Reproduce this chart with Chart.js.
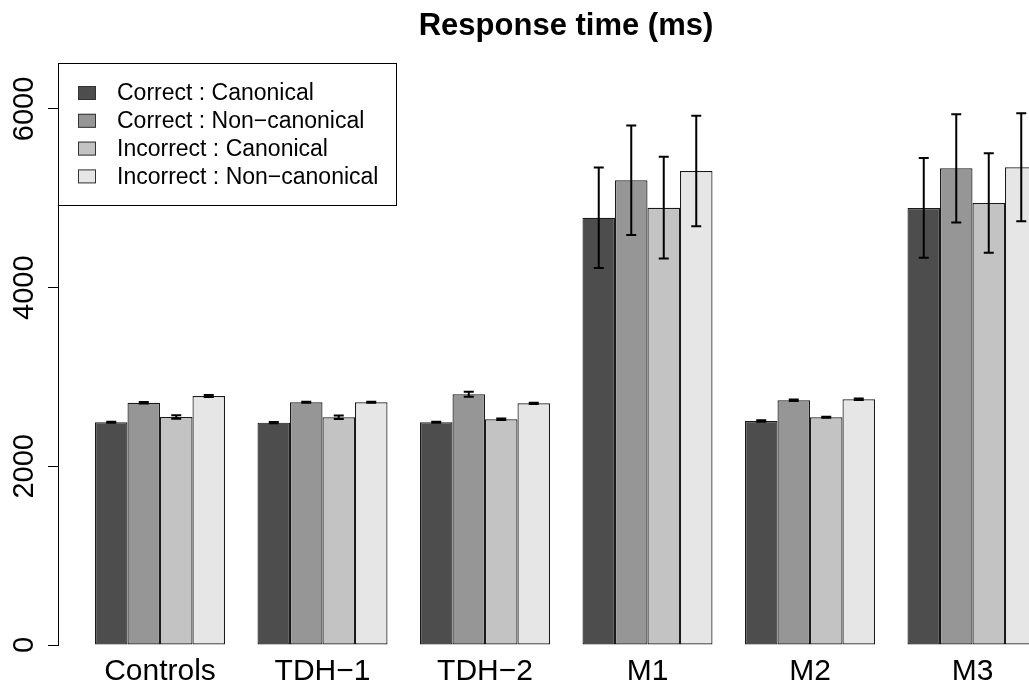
<!DOCTYPE html>
<html>
<head>
<meta charset="utf-8">
<script src="https://cdn.jsdelivr.net/npm/chart.js@4/dist/chart.umd.min.js"></script>
<style>
  html, body { margin: 0; padding: 0; background: #fff; overflow: hidden; }
</style>
</head>
<body>
<!-- canvas is wider than the window so the plot region runs off the right edge like the original -->
<canvas id="rtChart" width="1132" height="688"></canvas>
<script>
// groups on the x axis
const groups = ['Controls', 'TDH\u22121', 'TDH\u22122', 'M1', 'M2', 'M3'];

// series names (legend)
const seriesNames = ['Correct : Canonical', 'Correct : Non\u2212canonical', 'Incorrect : Canonical', 'Incorrect : Non\u2212canonical'];
const seriesColors = ['#4D4D4D', '#969696', '#C3C3C3', '#E6E6E6'];

// mean response time per group (ms)
const correctCanonical = [2493, 2489, 2493, 4783, 2507, 4892];
const correctNonCanonical = [2712, 2717, 2806, 5202, 2739, 5336];
const incorrectCanonical = [2552, 2549, 2526, 4895, 2549, 4948];
const incorrectNonCanonical = [2787, 2717, 2705, 5306, 2750, 5347];

// error bar half widths (ms)
const errCorrectCanonical = [6, 6, 6, 562, 8, 558];
const errCorrectNonCanonical = [8, 6, 28, 612, 8, 606];
const errIncorrectCanonical = [20, 20, 8, 570, 6, 556];
const errIncorrectNonCanonical = [10, 6, 6, 619, 8, 604];

// y axis ticks
const yTicks = [0, 2000, 4000, 6000];

const allValues = [correctCanonical, correctNonCanonical, incorrectCanonical, incorrectNonCanonical];
const allErrors = [errCorrectCanonical, errCorrectNonCanonical, errIncorrectCanonical, errIncorrectNonCanonical];

// build the datasets, groups sit at x = 1..6 on a linear axis
let datasets = [];
seriesNames.forEach((name, i) => {
  datasets.push({
    label: name,
    data: groups.map((g, k) => ({ x: k + 1, y: allValues[i][k] })),
    errors: allErrors[i],
    backgroundColor: seriesColors[i],
    borderColor: '#1a1a1a',
    borderWidth: 1.2,
    borderSkipped: false,
    categoryPercentage: 0.8,
    barPercentage: 1.0
  });
});

// draws the error bars on top of the bars
const errorBars = {
  id: 'errorBars',
  afterDatasetsDraw(chart) {
    const ctx = chart.ctx;
    const yScale = chart.scales.y;
    ctx.save();
    ctx.strokeStyle = '#000';
    ctx.lineWidth = 2;
    chart.data.datasets.forEach((ds, i) => {
      const meta = chart.getDatasetMeta(i);
      meta.data.forEach((bar, k) => {
        const v = ds.data[k].y;
        const e = ds.errors[k];
        const top = yScale.getPixelForValue(v + e);
        const bottom = yScale.getPixelForValue(v - e);
        ctx.beginPath();
        ctx.moveTo(bar.x, top);
        ctx.lineTo(bar.x, bottom);
        ctx.moveTo(bar.x - 5, top);
        ctx.lineTo(bar.x + 5, top);
        ctx.moveTo(bar.x - 5, bottom);
        ctx.lineTo(bar.x + 5, bottom);
        ctx.stroke();
      });
    });
    ctx.restore();
  }
};

// boxed legend in the top left corner, like R's legend()
const boxLegend = {
  id: 'boxLegend',
  afterDraw(chart) {
    const ctx = chart.ctx;
    ctx.save();
    ctx.fillStyle = '#fff';
    ctx.fillRect(58, 63, 338, 142);
    ctx.strokeStyle = '#000';
    ctx.lineWidth = 1;
    ctx.strokeRect(58.5, 63.5, 338, 142);
    ctx.font = '23px "Liberation Sans", Arial, sans-serif';
    ctx.textBaseline = 'middle';
    chart.data.datasets.forEach((ds, i) => {
      const y = 93 + i * 27.8;
      ctx.fillStyle = ds.backgroundColor;
      ctx.fillRect(78, y - 7, 18, 14);
      ctx.strokeStyle = '#333';
      ctx.strokeRect(78.5, y - 6.5, 17, 13);
      ctx.fillStyle = '#000';
      ctx.fillText(ds.label, 117, y + 1);
    });
    ctx.restore();
  }
};

Chart.defaults.font.family = '"Liberation Sans", Arial, sans-serif';
Chart.defaults.color = '#000';

let rtChart = new Chart(document.getElementById('rtChart'), {
  type: 'bar',
  data: { datasets: datasets },
  options: {
    responsive: false,
    animation: false,
    layout: { padding: 0 },
    plugins: {
      legend: { display: false },
      tooltip: { enabled: false },
      title: {
        display: true,
        text: 'Response time (ms)',
        font: { size: 31, weight: 'bold' },
        padding: { top: 8, bottom: 19.1 }
      }
    },
    scales: {
      x: {
        type: 'linear',
        offset: false,
        min: 0.3723,
        max: 6.9815,
        grid: { display: false, offset: false },
        border: { display: false },
        afterFit(scale) { scale.height = 43; },
        ticks: {
          stepSize: 1,
          includeBounds: false,
          autoSkip: false,
          maxRotation: 0,
          minRotation: 0,
          padding: 1,
          font: { size: 30 },
          callback: (v) => groups[v - 1] || ''
        }
      },
      y: {
        min: 0,
        max: 6500,
        afterFit(scale) { scale.width = 58; },
        afterBuildTicks(scale) { scale.ticks = yTicks.map(v => ({ value: v })); },
        grid: { drawOnChartArea: false, drawTicks: true, tickLength: 10, color: '#000' },
        border: { display: true, color: '#000', width: 1 },
        ticks: {
          includeBounds: false,
          minRotation: 90,
          maxRotation: 90,
          crossAlign: 'center',
          padding: -9,
          font: { size: 29 },
          callback: (v) => String(v)
        }
      }
    }
  },
  plugins: [errorBars, boxLegend]
});
</script>
</body>
</html>
